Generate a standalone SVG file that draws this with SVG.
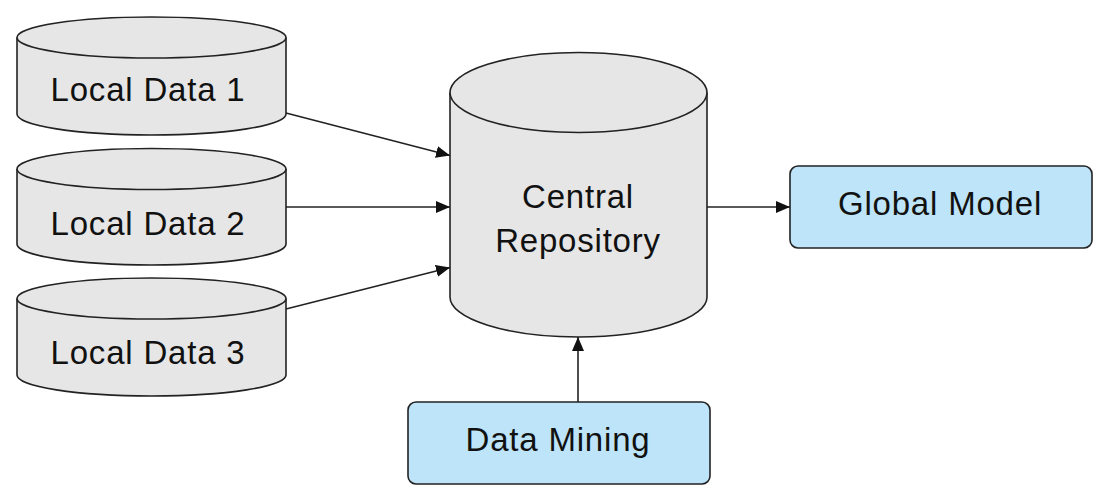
<svg xmlns="http://www.w3.org/2000/svg" width="1108" height="501" viewBox="0 0 1108 501">
<style>
.cyl{fill:#e6e6e6;stroke:#222;stroke-width:1.6}
.box{fill:#bde4f8;stroke:#222;stroke-width:1.6}
.lbl{font-family:"Liberation Sans",Arial,sans-serif;font-size:33px;letter-spacing:0.8px;fill:#111;text-anchor:middle}
.con{stroke:#222;stroke-width:1.6;fill:none;marker-end:url(#ah)}
</style>
<defs>
<marker id="ah" viewBox="0 0 14 12" refX="14" refY="6" markerWidth="14" markerHeight="12" markerUnits="userSpaceOnUse" orient="auto">
<path d="M0,0 L14,6 L0,12 z" fill="#111"/>
</marker>
</defs>
<rect width="1108" height="501" fill="#fff"/>
<g id="local1">
<path class="cyl" d="M17,37.5 L17,114 A134.5,21 0 0 0 286,114 L286,37.5"/>
<ellipse class="cyl" cx="151.5" cy="37.5" rx="134.5" ry="20.5"/>
<text class="lbl" x="148" y="101">Local Data 1</text>
</g>
<g id="local2">
<path class="cyl" d="M17,169 L17,244 A134.5,21 0 0 0 286,244 L286,169"/>
<ellipse class="cyl" cx="151.5" cy="169" rx="134.5" ry="20.5"/>
<text class="lbl" x="148" y="235">Local Data 2</text>
</g>
<g id="local3">
<path class="cyl" d="M17,298.5 L17,375 A134.5,21 0 0 0 286,375 L286,298.5"/>
<ellipse class="cyl" cx="151.5" cy="298.5" rx="134.5" ry="20.5"/>
<text class="lbl" x="148" y="364">Local Data 3</text>
</g>
<g id="central">
<path class="cyl" d="M450,92.5 L450,297 A128.5,40 0 0 0 707,297 L707,92.5"/>
<ellipse class="cyl" cx="578.5" cy="92.5" rx="128.5" ry="40"/>
<text class="lbl" x="578" y="208">Central</text>
<text class="lbl" x="578" y="252">Repository</text>
</g>
<g id="global">
<rect class="box" x="790" y="166" width="302" height="82" rx="8"/>
<text class="lbl" x="940" y="215">Global Model</text>
</g>
<g id="mining">
<rect class="box" x="408" y="402" width="302" height="82" rx="8"/>
<text class="lbl" x="558" y="451">Data Mining</text>
</g>
<g id="connectors">
<line class="con" x1="286" y1="113" x2="450" y2="155.5"/>
<line class="con" x1="286" y1="207" x2="450" y2="207"/>
<line class="con" x1="286" y1="309" x2="450" y2="267.5"/>
<line class="con" x1="707" y1="207" x2="790" y2="207"/>
<line class="con" x1="578" y1="402" x2="578" y2="337"/>
</g>
</svg>
